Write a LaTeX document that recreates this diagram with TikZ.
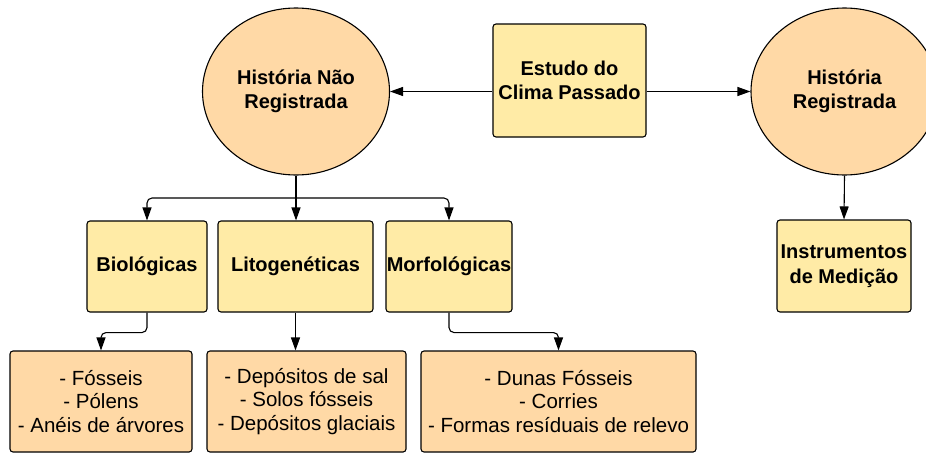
\documentclass[tikz,border=0pt]{standalone}
\usepackage{fontspec}
\setmainfont{Liberation Sans}
\usetikzlibrary{arrows.meta,shapes.geometric}

\definecolor{peach}{HTML}{FFD9A6}
\definecolor{pale}{HTML}{FFEBA6}

\tikzset{
  history/.style={ellipse, draw, fill=peach, line width=1.1pt,
                  minimum width=187pt, minimum height=167pt, inner sep=0pt,
                  align=center, font=\fontsize{20}{24.5}\selectfont\bfseries},
  topic/.style={rectangle, rounded corners=3pt, draw, fill=pale, line width=1.1pt,
                inner sep=0pt, align=center, font=\fontsize{20}{24.5}\selectfont\bfseries},
  items/.style={rectangle, rounded corners=3pt, draw, fill=peach, line width=1.1pt,
                inner sep=0pt, align=center, font=\fontsize{20.5}{23.5}\selectfont},
}

\begin{document}
\begin{tikzpicture}%
  [>={Stealth[inset=0pt,length=13pt,width=9pt]},
   x=1pt, y=-1pt,
   line width=1.1pt,
  ]
\path[use as bounding box, clip] (0,0) rectangle (926,453);

\node[history] (naoreg) at (296,91.5) {História Não\\Registrada};
\node[history] (reg)    at (844.5,91.5) {História\\Registrada};
\node[topic, minimum width=153pt, minimum height=113pt] (estudo) at (569.5,80.5) {Estudo do\\Clima Passado};
\node[topic, minimum width=134pt, minimum height=92pt]  (instr)  at (844,266) {Instrumentos\\de Medição};

\node[topic, minimum width=120pt, minimum height=91pt] (bio)  at (147,266.5)   {Biológicas};
\node[topic, minimum width=155pt, minimum height=91pt] (lito) at (295.5,266.5) {Litogenéticas};
\node[topic, minimum width=126pt, minimum height=91pt] (morf) at (449,266.5)   {Morfológicas};

\node[items, minimum width=182pt, minimum height=101pt] (fos) at (101,401.5)   {- Fósseis\\- Pólens\\- Anéis de árvores};
\node[items, minimum width=199pt, minimum height=101pt] (dep) at (306.5,401.5) {- Depósitos de sal\\- Solos fósseis\\- Depósitos glaciais};
\node[items, minimum width=275pt, minimum height=101pt] (dun) at (558.5,401.5) {- Dunas Fósseis\\- Corries\\- Formas resíduais de relevo};

\coordinate (split) at (296,198);

\path[->]
%   FROM                         TO
   (naoreg.east -| estudo.west)  edge (naoreg.east)
   (reg.west -| estudo.east)     edge (reg.west)
   (reg.south)                   edge (instr.north)
   (split)                       edge (split |- lito.north)
   (lito.south)                  edge (lito.south |- dep.north)
   ;

\draw (naoreg.south) -- (split);
\draw[->, rounded corners=5pt] (split) -| (bio.north);
\draw[->, rounded corners=5pt] (split) -| (morf.north);
\draw[->, rounded corners=5pt] (bio.south) -- ++(0,20) -| (fos.north);
\draw[->, rounded corners=5pt] (morf.south) -- ++(0,20) -| (dun.north);
\end{tikzpicture}
\end{document}
